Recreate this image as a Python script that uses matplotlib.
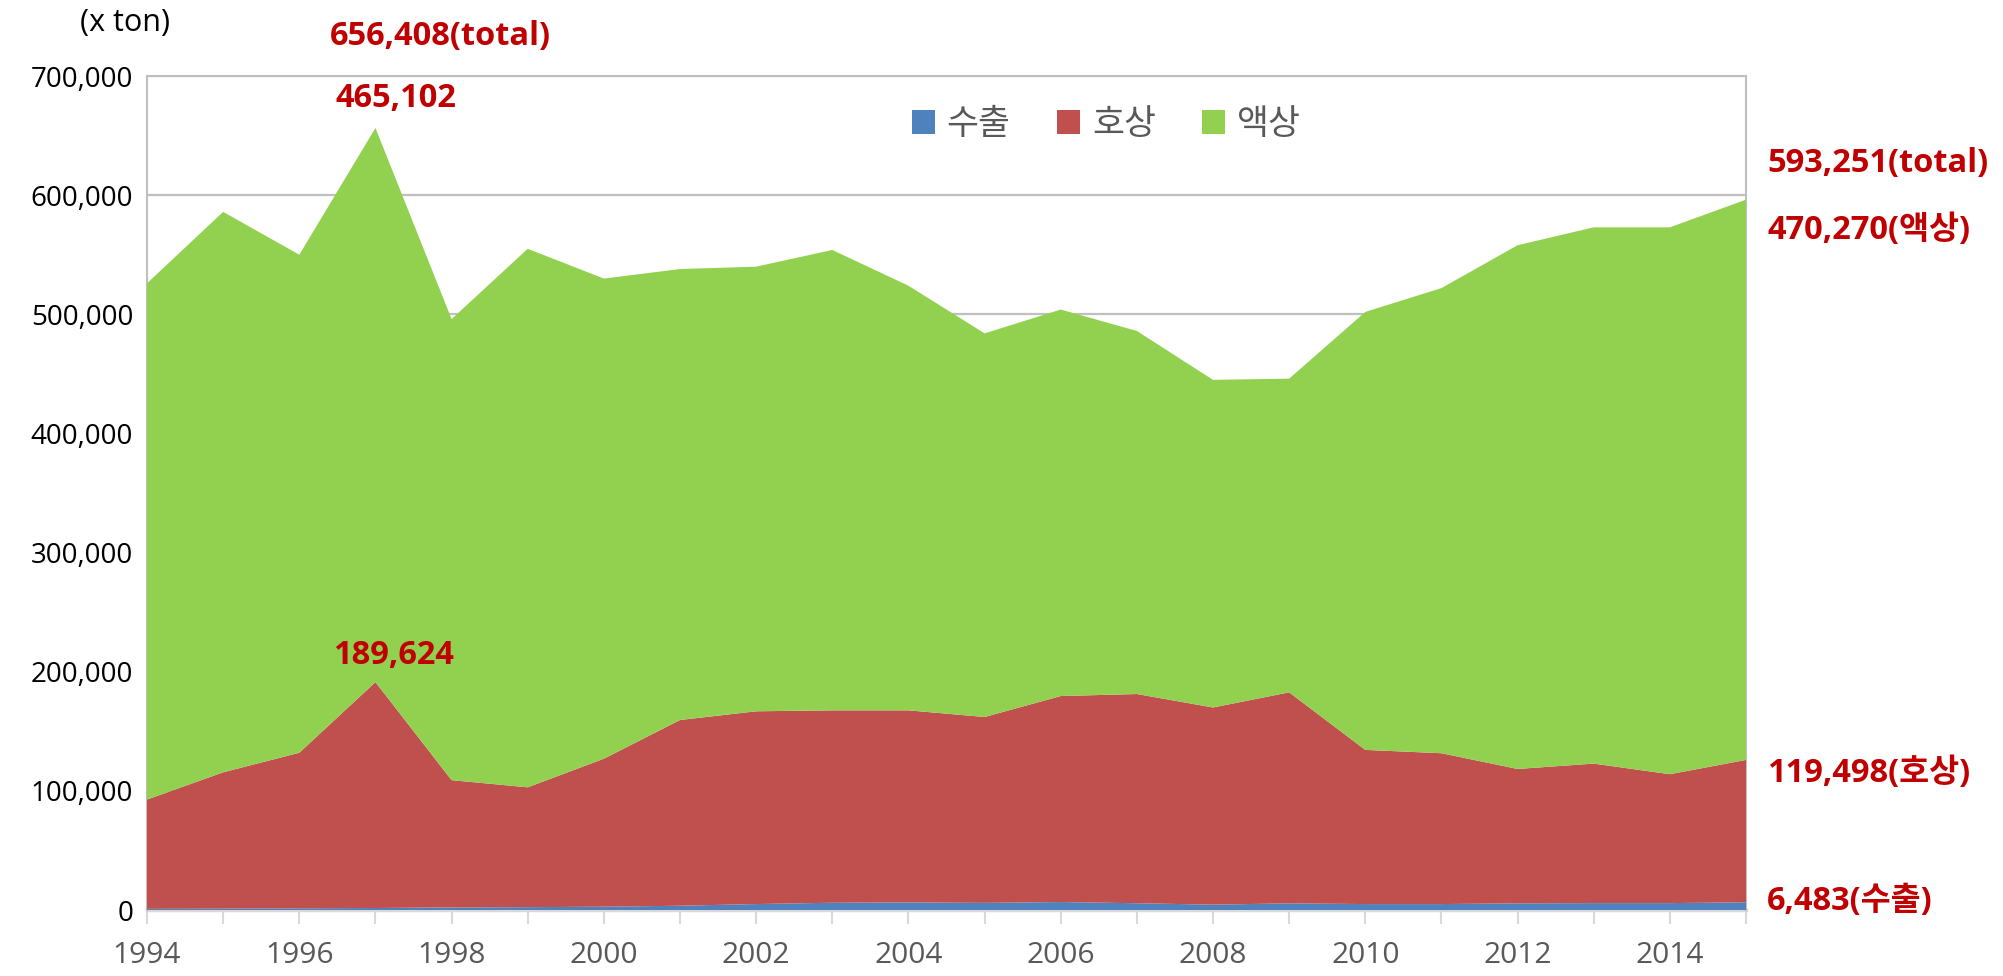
import numpy as np
import matplotlib
matplotlib.use("Agg")
import matplotlib.pyplot as plt
from matplotlib.ticker import FuncFormatter, MultipleLocator

plt.rcParams['font.family'] = ['Open Sans', 'Noto Sans CJK KR', 'DejaVu Sans']

# ---------------------- DADOS -------------------------
anos = list(range(1994, 2016))
series_nomes = ["수출", "호상", "액상"]
suchul = [1000, 1200, 1400, 1682, 2200, 2400, 2800, 3600, 5000, 6100, 6400,
          6000, 6700, 5700, 4500, 5600, 5000, 5000, 5600, 5800, 5800, 6483]
hosang = [91700, 114400, 130600, 189624, 106800, 100600, 124200, 155900, 161800, 161500, 161200,
          156000, 172900, 175600, 165500, 177100, 129400, 126600, 112800, 117100, 108200, 119498]
aeksang = [433300, 470400, 418000, 465102, 387000, 452000, 403000, 378500, 373200, 386400, 356400,
           322000, 324400, 304700, 275000, 263300, 367600, 390400, 439600, 450100, 459000, 470270]
cores = ["#4F81BD", "#C0504D", "#92D050"]

# rotulos em vermelho: (texto, x, y, alinhamento)
rotulos = [
    ("656,408(total)", 1997.85, 733000, "center"),
    ("465,102", 1997.27, 681000, "center"),
    ("189,624", 1997.24, 214000, "center"),
    ("593,251(total)", 2015.28, 627000, "left"),
    ("470,270(액상)", 2015.28, 570000, "left"),
    ("119,498(호상)", 2015.28, 115000, "left"),
    ("6,483(수출)", 2015.28, 7000, "left"),
]

# ---------------------- PLOTAGEM -------------------------
fig = plt.figure(figsize=(20.03, 9.76), dpi=100)
ax = fig.add_axes([0.0734, 0.0676, 0.7983, 0.8545])

ax.stackplot(anos, suchul, hosang, aeksang, colors=cores, labels=series_nomes,
             linewidth=0, zorder=3)

ax.set_xlim(1994, 2015)
ax.set_ylim(0, 700000)
ax.yaxis.set_major_locator(MultipleLocator(100000))
ax.yaxis.set_major_formatter(FuncFormatter(lambda v, p: f"{int(v):,}"))
ax.xaxis.set_major_locator(MultipleLocator(1))
ax.xaxis.set_major_formatter(FuncFormatter(lambda v, p: f"{int(v)}" if int(v) % 2 == 0 else ""))

ax.grid(axis='y', color="#BFBFBF", linewidth=1.6, zorder=1)
ax.set_axisbelow(True)
for lado in ["left", "right", "top"]:
    ax.spines[lado].set_color("#BFBFBF")
    ax.spines[lado].set_linewidth(1.5)
ax.spines["bottom"].set_color("#D9D9D9")
ax.spines["bottom"].set_linewidth(2.5)
ax.spines["bottom"].set_zorder(2)

ax.tick_params(axis='y', length=0, labelsize=20, labelcolor="black", pad=10)
ax.tick_params(axis='x', length=10, width=1.5, color="#D9D9D9", labelsize=21.5,
               labelcolor="#595959", pad=12)

fig.text(0.04, 0.976, "(x ton)", fontsize=22, ha="left", va="center")

for texto, x, y, ha in rotulos:
    ax.text(x, y, texto, color="#C00000", fontsize=23.5, fontweight="bold",
            ha=ha, va="center", clip_on=False, zorder=5)

ax.legend(loc="center", bbox_to_anchor=(0.600, 0.941), ncol=3, frameon=False,
          fontsize=25, labelcolor="#595959", handlelength=0.66, handleheight=0.66,
          handletextpad=0.35, columnspacing=1.33)

plt.savefig("out.png", dpi=100)
plt.close()
